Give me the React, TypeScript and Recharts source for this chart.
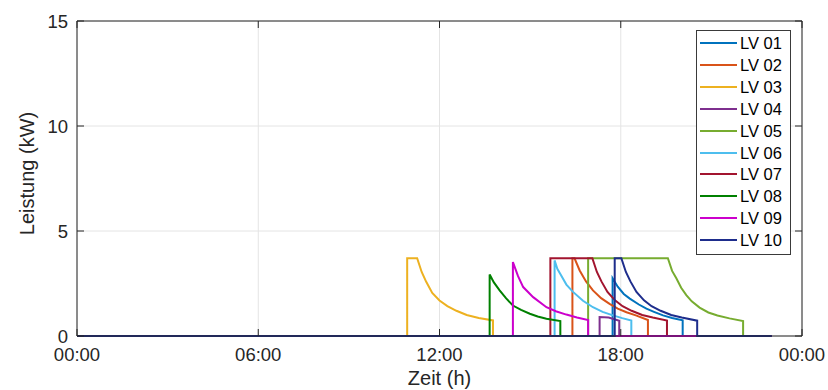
import React from 'react';
import { LineChart, Line, XAxis, YAxis, CartesianGrid, Legend, ReferenceLine } from 'recharts';

const FONT = '"Liberation Sans", Arial, Helvetica, sans-serif';
const TEXT = '#262626';

const seriesNames = ['LV 01', 'LV 02', 'LV 03', 'LV 04', 'LV 05', 'LV 06', 'LV 07', 'LV 08', 'LV 09', 'LV 10'];
const seriesColors = ['#0072BD', '#D95319', '#EDB120', '#7E2F8E', '#77AC30', '#4DBEEE', '#A2142F', '#008000', '#CC00CC', '#1E2D8C'];

const xTicks = [0, 6, 12, 18, 24];
const xTickLabels = ['00:00', '06:00', '12:00', '18:00', '00:00'];
const yTicks = [0, 5, 10, 15];

// time (h) / power (kW) per vehicle
const lv01Time = [0, 17.73, 17.73, 17.9, 18.1, 18.3, 18.6, 18.85, 19.1, 19.4, 19.7, 20.05, 20.05, 23];
const lv01Power = [0, 0, 2.75, 2.35, 2.0, 1.78, 1.5, 1.3, 1.15, 0.98, 0.86, 0.75, 0, 0];

const lv02Time = [0, 16.4, 16.4, 16.47, 16.64, 16.85, 17.08, 17.35, 17.63, 17.9, 18.19, 18.5, 18.9, 18.9, 23];
const lv02Power = [0, 0, 3.7, 3.7, 3.12, 2.6, 2.17, 1.8, 1.53, 1.3, 1.13, 0.98, 0.76, 0, 0];

const lv03Time = [0, 10.93, 10.93, 11.26, 11.41, 11.56, 11.76, 12.0, 12.26, 12.56, 12.9, 13.3, 13.77, 13.77, 23];
const lv03Power = [0, 0, 3.7, 3.7, 3.05, 2.58, 2.05, 1.69, 1.42, 1.2, 1.0, 0.86, 0.74, 0, 0];

const lv04Time = [0, 17.3, 17.3, 17.6, 17.95, 17.95, 23];
const lv04Power = [0, 0, 0.9, 0.88, 0.73, 0, 0];

const lv05Time = [0, 16.92, 16.92, 19.56, 19.7, 19.84, 20.0, 20.17, 20.35, 20.61, 20.9, 21.2, 21.6, 22.05, 22.05, 23];
const lv05Power = [0, 0, 3.7, 3.7, 3.1, 2.75, 2.3, 1.95, 1.65, 1.35, 1.12, 0.98, 0.84, 0.71, 0, 0];

const lv06Time = [0, 15.81, 15.81, 15.9, 16.0, 16.2, 16.42, 16.75, 17.08, 17.4, 17.74, 18.05, 18.35, 18.35, 23];
const lv06Power = [0, 0, 3.6, 3.2, 2.95, 2.45, 2.1, 1.68, 1.37, 1.15, 0.98, 0.85, 0.74, 0, 0];

const lv07Time = [0, 15.67, 15.67, 17.06, 17.21, 17.36, 17.56, 17.81, 18.06, 18.36, 18.71, 19.06, 19.53, 19.53, 23];
const lv07Power = [0, 0, 3.7, 3.7, 3.05, 2.6, 2.1, 1.7, 1.42, 1.2, 1.0, 0.88, 0.74, 0, 0];

const lv08Time = [0, 13.66, 13.66, 13.8, 13.99, 14.2, 14.43, 14.7, 14.99, 15.25, 15.54, 16.0, 16.0, 23];
const lv08Power = [0, 0, 2.93, 2.55, 2.17, 1.8, 1.45, 1.24, 1.06, 0.93, 0.82, 0.71, 0, 0];

const lv09Time = [0, 14.43, 14.43, 14.6, 14.77, 15.1, 15.54, 15.85, 16.2, 16.55, 16.92, 16.92, 23];
const lv09Power = [0, 0, 3.52, 2.85, 2.33, 1.85, 1.37, 1.18, 1.02, 0.88, 0.76, 0, 0];

const lv10Time = [0, 17.8, 17.8, 18.02, 18.17, 18.32, 18.52, 18.77, 19.02, 19.32, 19.67, 20.02, 20.53, 20.53, 23];
const lv10Power = [0, 0, 3.7, 3.7, 3.05, 2.6, 2.1, 1.7, 1.42, 1.2, 1.0, 0.88, 0.73, 0, 0];

const seriesTimes = [lv01Time, lv02Time, lv03Time, lv04Time, lv05Time, lv06Time, lv07Time, lv08Time, lv09Time, lv10Time];
const seriesPowers = [lv01Power, lv02Power, lv03Power, lv04Power, lv05Power, lv06Power, lv07Power, lv08Power, lv09Power, lv10Power];

const series = seriesNames.map((name, i) => ({
  name,
  color: seriesColors[i],
  data: seriesTimes[i].map((t, j) => ({ t, v: seriesPowers[i][j] })),
}));

const CHART_W = 828;
const CHART_H = 390;
const MARGIN = { top: 21, right: 26, left: 0, bottom: 0 };
const Y_AXIS_W = 77;
const X_AXIS_H = 54;
const PLOT_W = CHART_W - MARGIN.left - MARGIN.right - Y_AXIS_W;
const PLOT_H = CHART_H - MARGIN.top - MARGIN.bottom - X_AXIS_H;
const TICK_LEN = 7;
const Y_TICK_GAP = 9;

const YTick = (props: any) => {
  const { x, y, payload } = props;
  const axisX = x + Y_TICK_GAP;
  return (
    <g>
      <line x1={axisX} x2={axisX + TICK_LEN} y1={y} y2={y} stroke={TEXT} strokeWidth={1} />
      <line x1={axisX + PLOT_W} x2={axisX + PLOT_W - TICK_LEN} y1={y} y2={y} stroke={TEXT} strokeWidth={1} />
      <text x={x} y={y} dy={6.6} textAnchor="end" fontSize={18.5} fill={TEXT} fontFamily={FONT}>
        {payload.value}
      </text>
    </g>
  );
};

const XTick = (props: any) => {
  const { x, y, payload, index } = props;
  const label = xTickLabels[xTicks.indexOf(payload.value)] ?? xTickLabels[index];
  return (
    <g>
      <line x1={x} x2={x} y1={y} y2={y - TICK_LEN} stroke={TEXT} strokeWidth={1} />
      <line x1={x} x2={x} y1={y - PLOT_H} y2={y - PLOT_H + TICK_LEN} stroke={TEXT} strokeWidth={1} />
      <text x={x} y={y} dy={24.5} textAnchor="middle" fontSize={18.5} fill={TEXT} fontFamily={FONT}>
        {label}
      </text>
    </g>
  );
};

const YLabel = (props: any) => {
  const vb = props.viewBox || { x: 0, y: MARGIN.top, width: Y_AXIS_W, height: PLOT_H };
  const cx = vb.x + 34;
  const cy = vb.y + vb.height / 2 - 5;
  return (
    <text
      x={cx}
      y={cy}
      transform={`rotate(-90, ${cx}, ${cy})`}
      textAnchor="middle"
      fontSize={20}
      fill={TEXT}
      fontFamily={FONT}
    >
      Leistung (kW)
    </text>
  );
};

const LegendBox = (props: any) => {
  const payload = props.payload || [];
  return (
    <div
      style={{
        width: 93,
        height: 221,
        border: '1px solid #3a3a3a',
        background: '#fff',
        paddingTop: 1.5,
        boxSizing: 'content-box',
        fontFamily: FONT,
        fontSize: 16.5,
        color: '#000',
      }}
    >
      {payload.map((p: any) => (
        <div key={p.value} style={{ display: 'flex', alignItems: 'center', height: 21.85 }}>
          <div style={{ width: 37, height: 2, background: p.color, marginLeft: 3, marginRight: 3 }} />
          <span style={{ lineHeight: '18px' }}>{p.value}</span>
        </div>
      ))}
    </div>
  );
};

export default function App() {
  return (
    <div style={{ position: 'absolute', left: 0, top: 0, width: CHART_W, height: CHART_H, background: '#fff' }}>
      <LineChart width={CHART_W} height={CHART_H} margin={MARGIN}>
        <CartesianGrid stroke="#e4e4e4" strokeWidth={1} verticalValues={xTicks} horizontalValues={yTicks} />
        <XAxis
          dataKey="t"
          type="number"
          domain={[0, 24]}
          ticks={xTicks}
          interval={0}
          height={X_AXIS_H}
          tickSize={0}
          tickMargin={0}
          axisLine={{ stroke: TEXT, strokeWidth: 1 }}
          tickLine={false}
          tick={<XTick />}
          allowDuplicatedCategory={true}
          label={{
            value: 'Zeit (h)',
            position: 'insideBottom',
            offset: 5,
            style: { fontSize: 20, fill: TEXT, fontFamily: FONT },
          }}
        />
        <YAxis
          type="number"
          domain={[0, 15]}
          ticks={yTicks}
          interval={0}
          width={Y_AXIS_W}
          tickSize={0}
          tickMargin={Y_TICK_GAP}
          axisLine={{ stroke: TEXT, strokeWidth: 1 }}
          tickLine={false}
          tick={<YTick />}
          label={<YLabel />}
        />
        <ReferenceLine x={24} stroke={TEXT} strokeWidth={1} />
        <ReferenceLine y={15} stroke={TEXT} strokeWidth={1} />
        {series.map((s) => (
          <Line
            key={s.name}
            name={s.name}
            data={s.data}
            dataKey="v"
            type="linear"
            stroke={s.color}
            strokeWidth={2}
            dot={false}
            activeDot={false}
            isAnimationActive={false}
          />
        ))}
        <Legend
          layout="vertical"
          align="center"
          verticalAlign="middle"
          content={<LegendBox />}
          wrapperStyle={{ position: 'absolute', left: 696, top: 30, width: 'auto', height: 'auto' }}
        />
      </LineChart>
    </div>
  );
}
